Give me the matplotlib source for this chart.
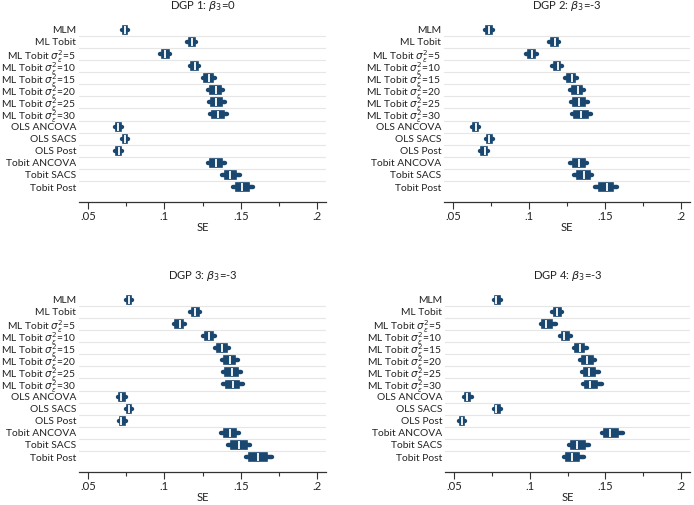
import matplotlib
matplotlib.use("Agg")
from matplotlib import pyplot as plt
from matplotlib.ticker import MultipleLocator

plt.rcParams['font.family'] = ['Lato', 'DejaVu Sans']
plt.rcParams['mathtext.fontset'] = 'dejavusans'

# Method labels (top to bottom).
methods = ["MLM", "ML Tobit",
           r"ML Tobit $\sigma^2_\epsilon$=5", r"ML Tobit $\sigma^2_\epsilon$=10",
           r"ML Tobit $\sigma^2_\epsilon$=15", r"ML Tobit $\sigma^2_\epsilon$=20",
           r"ML Tobit $\sigma^2_\epsilon$=25", r"ML Tobit $\sigma^2_\epsilon$=30",
           "OLS ANCOVA", "OLS SACS", "OLS Post",
           "Tobit ANCOVA", "Tobit SACS", "Tobit Post"]

titles = [r"DGP 1: $\beta_3$=0", r"DGP 2: $\beta_3$=-3",
          r"DGP 3: $\beta_3$=-3", r"DGP 4: $\beta_3$=-3"]

# Box plot summaries of SE per method: whisker low, q1, median, q3, whisker high.
dgp1_lo  = [.0723, .1150, .0970, .1170, .1250, .1286, .1290, .1300, .0677, .0723, .0680, .1286, .1380, .1450]
dgp1_q1  = [.0728, .1160, .0982, .1178, .1262, .1302, .1305, .1312, .0684, .0728, .0686, .1300, .1395, .1468]
dgp1_med = [.0740, .1180, .1005, .1200, .1290, .1340, .1340, .1350, .0700, .0740, .0702, .1340, .1430, .1510]
dgp1_q3  = [.0756, .1200, .1030, .1220, .1318, .1370, .1380, .1390, .0716, .0756, .0718, .1380, .1472, .1555]
dgp1_hi  = [.0763, .1210, .1040, .1230, .1330, .1385, .1400, .1410, .0723, .0763, .0725, .1397, .1495, .1580]

dgp2_lo  = [.0710, .1133, .0980, .1150, .1237, .1267, .1274, .1280, .0624, .0717, .0678, .1267, .1295, .1436]
dgp2_q1  = [.0718, .1145, .0992, .1162, .1250, .1285, .1290, .1298, .0632, .0723, .0688, .1288, .1315, .1458]
dgp2_med = [.0740, .1170, .1020, .1190, .1280, .1320, .1330, .1340, .0650, .0740, .0710, .1330, .1360, .1510]
dgp2_q3  = [.0756, .1190, .1042, .1207, .1305, .1350, .1370, .1385, .0666, .0757, .0726, .1365, .1398, .1555]
dgp2_hi  = [.0764, .1198, .1050, .1215, .1317, .1360, .1390, .1410, .0673, .0764, .0732, .1380, .1415, .1577]

dgp3_lo  = [.0751, .1170, .1063, .1253, .1335, .1379, .1387, .1387, .0695, .0751, .0701, .1372, .1416, .1535]
dgp3_q1  = [.0756, .1180, .1073, .1265, .1348, .1392, .1400, .1402, .0703, .0756, .0708, .1388, .1436, .1555]
dgp3_med = [.0770, .1200, .1100, .1290, .1380, .1430, .1440, .1450, .0720, .0770, .0720, .1430, .1490, .1610]
dgp3_q3  = [.0783, .1226, .1124, .1316, .1412, .1465, .1480, .1492, .0742, .0783, .0742, .1472, .1538, .1670]
dgp3_hi  = [.0788, .1236, .1134, .1329, .1426, .1480, .1500, .1513, .0751, .0788, .0751, .1490, .1560, .1703]

dgp4_lo  = [.0766, .1148, .1076, .1203, .1290, .1334, .1345, .1352, .0570, .0766, .0537, .1476, .1258, .1225]
dgp4_q1  = [.0771, .1158, .1085, .1212, .1302, .1347, .1357, .1364, .0576, .0771, .0543, .1490, .1272, .1240]
dgp4_med = [.0780, .1180, .1110, .1230, .1330, .1380, .1390, .1400, .0590, .0780, .0555, .1530, .1310, .1280]
dgp4_q3  = [.0802, .1204, .1150, .1260, .1362, .1415, .1432, .1445, .0610, .0802, .0568, .1585, .1365, .1325]
dgp4_hi  = [.0810, .1214, .1177, .1273, .1378, .1432, .1459, .1476, .0618, .0810, .0574, .1614, .1395, .1356]

panels = [
    (dgp1_lo, dgp1_q1, dgp1_med, dgp1_q3, dgp1_hi),
    (dgp2_lo, dgp2_q1, dgp2_med, dgp2_q3, dgp2_hi),
    (dgp3_lo, dgp3_q1, dgp3_med, dgp3_q3, dgp3_hi),
    (dgp4_lo, dgp4_q1, dgp4_med, dgp4_q3, dgp4_hi),
]

navy = "#1a476f"
text_col = "#222222"
fs_lab = 7.4
fs = 8.1

fig = plt.figure(figsize=(6.94, 5.05), dpi=100)

# Axes rectangles in figure fractions.
rects = [
    [79 / 694, 1 - 202 / 505, 247 / 694, 186 / 505],
    [444 / 694, 1 - 202 / 505, 246 / 694, 186 / 505],
    [79 / 694, 1 - 472 / 505, 247 / 694, 186 / 505],
    [445 / 694, 1 - 472 / 505, 245 / 694, 186 / 505],
]

n = len(methods)
for i, (lo, q1, med, q3, hi) in enumerate(panels):
    ax = fig.add_axes(rects[i])

    stats = []
    for k in range(n):
        stats.append(dict(whislo=lo[k], q1=q1[k], med=med[k], q3=q3[k], whishi=hi[k], fliers=[]))

    ax.bxp(stats, positions=range(n), orientation='horizontal', widths=0.66,
           patch_artist=True, showfliers=False, showcaps=False,
           boxprops=dict(facecolor=navy, edgecolor=navy, linewidth=1.2),
           medianprops=dict(color="white", linewidth=1.3),
           whiskerprops=dict(color=navy, linewidth=3.2, solid_capstyle='round'))

    # Light horizontal grid lines between categories.
    for k in range(n - 1):
        ax.axhline(k + 0.5, color="#e6e6e6", linewidth=0.8, zorder=0)

    ax.set_ylim(n - 1 + 1.24, -1.15)
    ax.set_xlim(0.0442, 0.2058)
    ax.set_yticks(range(n))
    ax.set_yticklabels(methods, fontsize=fs_lab, color=text_col)
    ax.tick_params(axis='y', length=0, pad=2)

    ax.xaxis.set_minor_locator(MultipleLocator(0.025))
    ax.set_xticks([.05, .1, .15, .2])
    ax.set_xticklabels([".05", ".1", ".15", ".2"], fontsize=fs, color=text_col)
    ax.tick_params(axis='x', which='major', length=5, width=0.8, color="#333333", pad=1.5)
    ax.tick_params(axis='x', which='minor', length=3, width=0.8, color="#333333")
    ax.set_xlabel("SE", fontsize=fs, color=text_col, labelpad=0)

    for side in ["left", "top", "right"]:
        ax.spines[side].set_visible(False)
    ax.spines["bottom"].set_color("#333333")
    ax.spines["bottom"].set_linewidth(0.9)

    ax.set_title(titles[i], fontsize=fs, color=text_col, pad=5)

fig.savefig("out.png", dpi=100)
